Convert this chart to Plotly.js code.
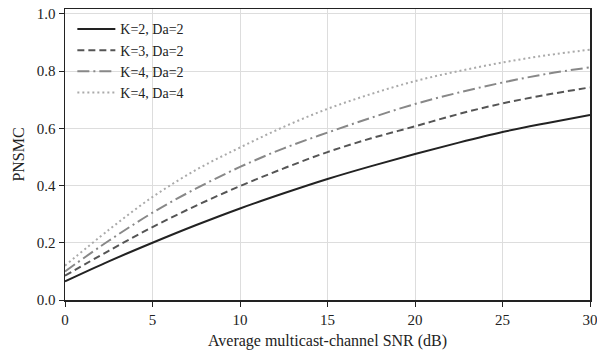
<!DOCTYPE html>
<html><head><meta charset="utf-8">
<script src="https://cdn.plot.ly/plotly-3.0.1.min.js"></script>
<style>html,body{margin:0;padding:0;background:#fff}#c{width:597px;height:351px}</style>
</head><body><div id="c"></div>
<script>
const snr = [0, 2.5, 5, 7.5, 10, 12.5, 15, 17.5, 20, 22.5, 25, 27.5, 30];
const k2da2 = [0.065, 0.135, 0.2, 0.262, 0.32, 0.373, 0.423, 0.468, 0.51, 0.55, 0.587, 0.618, 0.647];
const k3da2 = [0.085, 0.172, 0.255, 0.33, 0.398, 0.46, 0.517, 0.565, 0.607, 0.65, 0.687, 0.717, 0.743];
const k4da2 = [0.1, 0.207, 0.305, 0.39, 0.465, 0.53, 0.585, 0.637, 0.685, 0.725, 0.76, 0.79, 0.813];
const k4da4 = [0.12, 0.245, 0.36, 0.455, 0.533, 0.605, 0.668, 0.72, 0.765, 0.8, 0.83, 0.855, 0.875];
const names = ["K=2, Da=2", "K=3, Da=2", "K=4, Da=2", "K=4, Da=4"];
const series = [k2da2, k3da2, k4da2, k4da4];
const colors = ["#222222", "#555555", "#888888", "#aaaaaa"];
const dashes = ["solid", "7px,4px", "12px,4px,2px,4px", "2px,3px"];
const traces = series.map((s, i) => ({
  x: snr, y: s, name: names[i], type: "scatter", mode: "lines",
  line: {color: colors[i], width: 2, dash: dashes[i], shape: "spline"}
}));
const fam = "Liberation Serif, Times New Roman, serif";
const tickFont = {family: fam, size: 15, color: "#222"};
const titleFont = {family: fam, size: 16, color: "#222"};
const legFont = {family: fam, size: 14, color: "#222"};
Plotly.newPlot("c", traces, {
  width: 597, height: 351,
  margin: {l: 65, r: 7, t: 9, b: 51},
  paper_bgcolor: "#fff", plot_bgcolor: "#fff",
  font: tickFont,
  showlegend: true,
  legend: {x: 0.014, y: 0.985, xanchor: "left", yanchor: "top", bgcolor: "rgba(0,0,0,0)", font: legFont, itemwidth: 38, tracegroupgap: 0},
  xaxis: {range: [0, 30], tickvals: [0, 5, 10, 15, 20, 25, 30], showgrid: true, gridcolor: "#dddddd",
    zeroline: false, showline: true, linecolor: "#222", linewidth: 1.5, mirror: true,
    ticks: "outside", ticklen: 5, tickcolor: "#222", tickfont: tickFont, ticklabeloverflow: "allow",
    title: {text: "Average multicast-channel SNR (dB)", font: titleFont, standoff: 8}},
  yaxis: {range: [0, 1.017], tickvals: [0, 0.2, 0.4, 0.6, 0.8, 1.0], tickformat: ".1f", showgrid: true, gridcolor: "#dddddd",
    zeroline: false, showline: true, linecolor: "#222", linewidth: 1.5, mirror: true,
    ticks: "outside", ticklen: 5, tickcolor: "#222", tickfont: tickFont, ticklabeloverflow: "allow",
    title: {text: "PNSMC", font: titleFont, standoff: 8}}
}, {displayModeBar: false, staticPlot: true});
</script></body></html>
